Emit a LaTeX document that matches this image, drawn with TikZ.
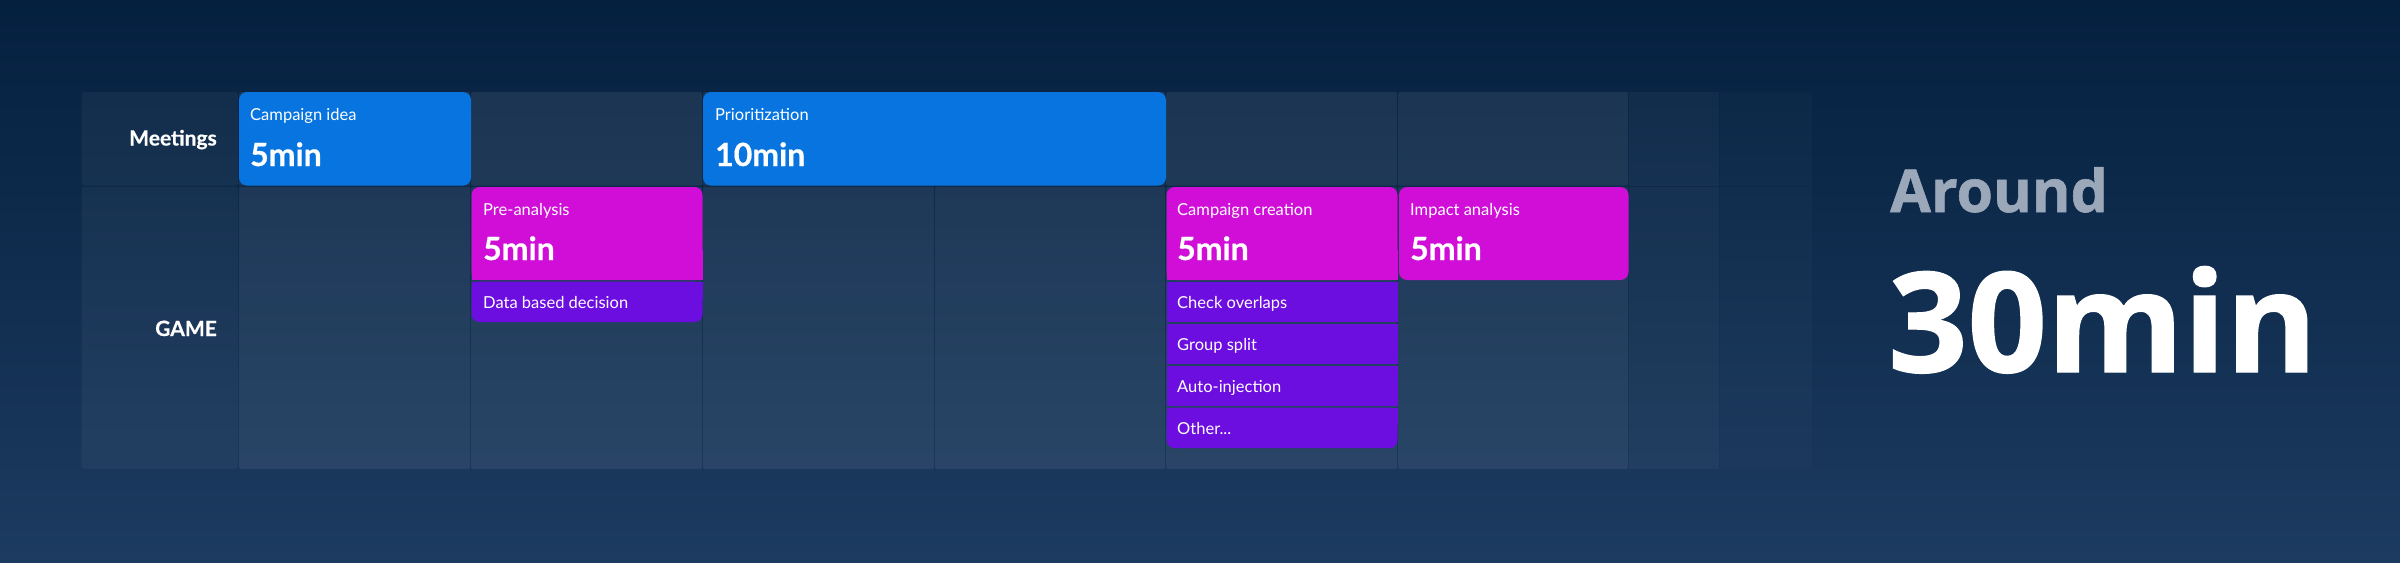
\documentclass[tikz,border=0pt]{standalone}
\usepackage{fontspec}
\setmainfont{Lato}
\newfontfamily\bigfont{Open Sans}[BoldFeatures={FakeBold=1.0}]
\newfontfamily\heavyfont{Lato}[BoldFeatures={FakeBold=0.5}]
\definecolor{bgtop}{HTML}{05203F}
\definecolor{bgbot}{HTML}{1C3B60}
\definecolor{blueblk}{HTML}{0874E0}
\definecolor{magblk}{HTML}{D00ED8}
\definecolor{purblk}{HTML}{6C0EE0}
\definecolor{aroundc}{HTML}{9BA8B9}
\tikzset{
  cellbox/.style={fill=white,fill opacity=0.075,rounded corners=2pt},
  labelcell/.style={fill=white,fill opacity=0.045,rounded corners=3pt},
  fadecellA/.style={fill=white,fill opacity=0.04},
  fadecellB/.style={fill=white,fill opacity=0.018},
  small/.style={inner sep=0pt,anchor=base west,text=white,font=\fontsize{16.5}{20}\selectfont},
  dur/.style={inner sep=0pt,anchor=base west,text=white,font=\heavyfont\fontsize{32}{36}\selectfont\bfseries},
  rowlabel/.style={inner sep=0pt,anchor=base east,text=white,font=\heavyfont\fontsize{21}{25}\selectfont\bfseries},
}
\begin{document}
\begin{tikzpicture}[x=1pt,y=-1pt]
\useasboundingbox (0,0) rectangle (2400,562);
\shade[top color=bgtop,bottom color=bgbot] (0,0) rectangle (2400,562);
% label column
\fill[labelcell] (81.5,92) rectangle (238.2,185.5);
\fill[labelcell] (81.5,186.8) rectangle (238.2,469);
% main cells
\foreach \xa/\xb in {239/470.2,471/702.2,703/934.2,935/1165.2,1166/1397.2,1398/1628.2}{
  \fill[cellbox] (\xa,92) rectangle (\xb,185.5);
  \fill[cellbox] (\xa,186.8) rectangle (\xb,469);
}
\fill[fadecellA] (1629.2,92) rectangle (1719.2,185.5);
\fill[fadecellA] (1629.2,186.8) rectangle (1719.2,469);
\fill[fadecellB] (1720.2,92) rectangle (1812,185.5);
\fill[fadecellB] (1720.2,186.8) rectangle (1812,469);
% meeting blocks
\fill[blueblk,rounded corners=8pt] (239,92) rectangle (471,185.5);
\fill[blueblk,rounded corners=8pt] (703,92) rectangle (1166,185.5);
% pre-analysis
\fill[magblk,rounded corners=8pt] (471.5,187) rectangle (702.5,280);
\fill[magblk] (471.5,250) rectangle (702.5,280);
\fill[purblk,rounded corners=8pt] (471.5,281.5) rectangle (702.5,322);
\fill[purblk] (471.5,281.5) rectangle (702.5,300);
% campaign creation
\fill[magblk,rounded corners=8pt] (1166.5,187) rectangle (1397.5,280);
\fill[magblk] (1166.5,250) rectangle (1397.5,280);
\fill[purblk] (1166.5,281.5) rectangle (1397.5,322);
\fill[purblk] (1166.5,323.5) rectangle (1397.5,364);
\fill[purblk] (1166.5,365.5) rectangle (1397.5,406);
\fill[purblk,rounded corners=8pt] (1166.5,407.5) rectangle (1397.5,448);
\fill[purblk] (1166.5,407.5) rectangle (1397.5,425);
% impact analysis
\fill[magblk,rounded corners=8pt] (1399,187) rectangle (1628.5,280);
% row labels
\node[rowlabel] (meetings) at (217,145.5) {Meetings};
\node[rowlabel] (game) at (217,336) {GAME};
% texts
\node[small] (t1) at (250,120) {Campaign idea};
\node[dur] (d1) at (250,166) {5min};
\node[small] (t2) at (715,120) {Prioritization};
\node[dur] (d2) at (715,166) {10min};
\node[small] (t3) at (483,215.5) {Pre-analysis};
\node[dur] (d3) at (483,260) {5min};
\node[small] (s31) at (483,308) {Data based decision};
\node[small] (t4) at (1177,215.5) {Campaign creation};
\node[dur] (d4) at (1177,260) {5min};
\node[small] (s41) at (1177,308.5) {Check overlaps};
\node[small] (s42) at (1177,350) {Group split};
\node[small] (s43) at (1177,392) {Auto-injection};
\node[small] (s44) at (1177,434) {Other...};
\node[small] (t5) at (1410,215.5) {Impact analysis};
\node[dur] (d5) at (1410,260) {5min};
% total
\node[inner sep=0pt,anchor=base west,text=aroundc,font=\bigfont\fontsize{59}{64}\selectfont\bfseries] (around) at (1890,212) {Around};
\node[inner sep=0pt,anchor=base west,text=white,font=\bigfont\fontsize{139}{144}\selectfont\bfseries] (total) at (1888,372) {30min};
\end{tikzpicture}
\end{document}
